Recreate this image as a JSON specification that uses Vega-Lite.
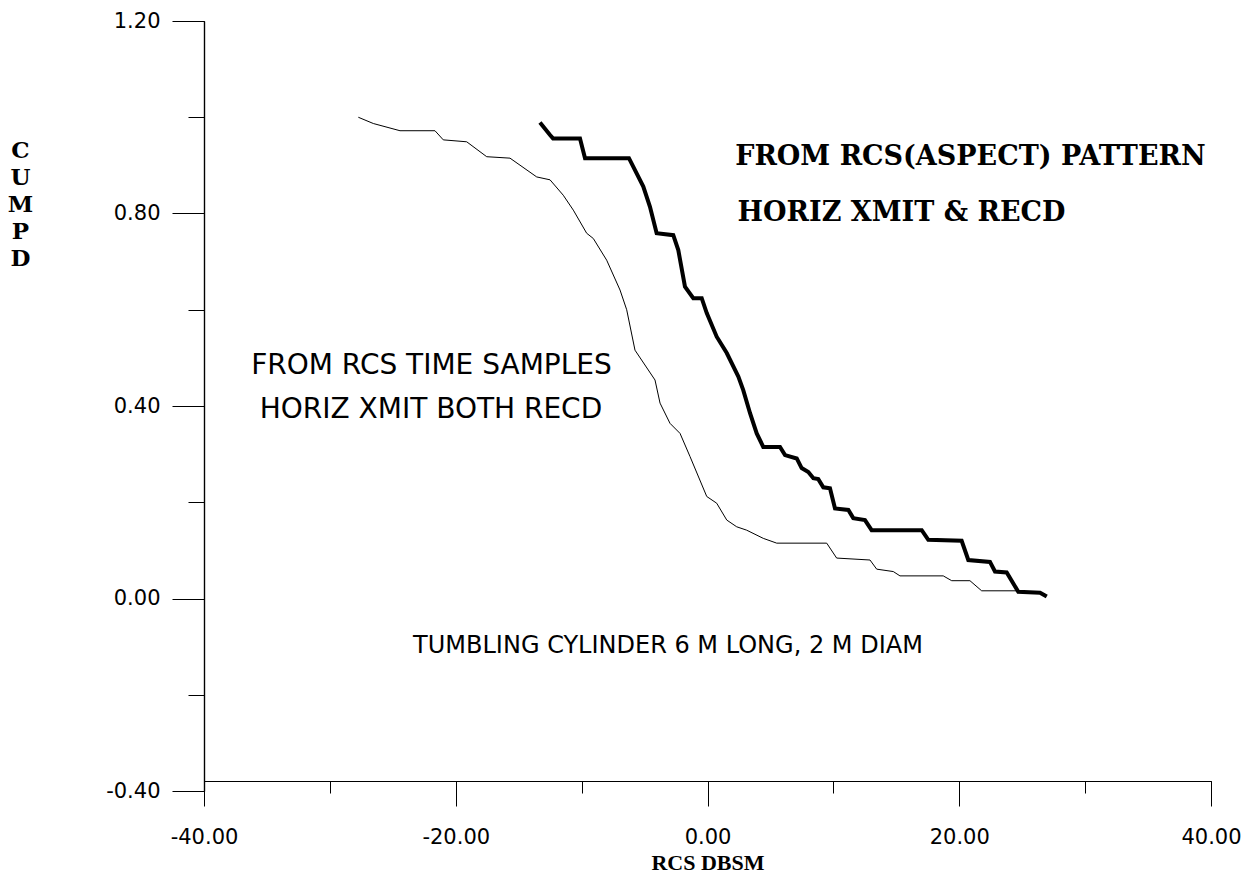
{
  "$schema": "https://vega.github.io/schema/vega-lite/v6.json",
  "width": 1007,
  "height": 770,
  "autosize": {"type": "none"},
  "padding": {"left": 204, "top": 21, "right": 41, "bottom": 89},
  "background": "white",
  "config": {"view": {"stroke": null}},
  "resolve": {"axis": {"x": "independent", "y": "independent"}},
  "datasets": {
    "curves": [
      {"series": "aspect", "x": -13.31, "y": 0.989},
      {"series": "aspect", "x": -12.51, "y": 0.963},
      {"series": "aspect", "x": -12.27, "y": 0.956},
      {"series": "aspect", "x": -10.13, "y": 0.956},
      {"series": "aspect", "x": -9.73, "y": 0.915},
      {"series": "aspect", "x": -6.24, "y": 0.915},
      {"series": "aspect", "x": -5.10, "y": 0.856},
      {"series": "aspect", "x": -4.57, "y": 0.814},
      {"series": "aspect", "x": -4.04, "y": 0.759},
      {"series": "aspect", "x": -2.72, "y": 0.755},
      {"series": "aspect", "x": -2.32, "y": 0.724},
      {"series": "aspect", "x": -1.79, "y": 0.648},
      {"series": "aspect", "x": -1.13, "y": 0.624},
      {"series": "aspect", "x": -0.46, "y": 0.624},
      {"series": "aspect", "x": -0.06, "y": 0.593},
      {"series": "aspect", "x": 0.73, "y": 0.544},
      {"series": "aspect", "x": 1.53, "y": 0.510},
      {"series": "aspect", "x": 2.45, "y": 0.461},
      {"series": "aspect", "x": 2.84, "y": 0.433},
      {"series": "aspect", "x": 3.38, "y": 0.385},
      {"series": "aspect", "x": 3.91, "y": 0.343},
      {"series": "aspect", "x": 4.43, "y": 0.315},
      {"series": "aspect", "x": 5.76, "y": 0.315},
      {"series": "aspect", "x": 6.16, "y": 0.298},
      {"series": "aspect", "x": 7.09, "y": 0.291},
      {"series": "aspect", "x": 7.48, "y": 0.271},
      {"series": "aspect", "x": 8.01, "y": 0.263},
      {"series": "aspect", "x": 8.41, "y": 0.250},
      {"series": "aspect", "x": 8.80, "y": 0.248},
      {"series": "aspect", "x": 9.20, "y": 0.231},
      {"series": "aspect", "x": 9.73, "y": 0.229},
      {"series": "aspect", "x": 10.13, "y": 0.187},
      {"series": "aspect", "x": 11.19, "y": 0.184},
      {"series": "aspect", "x": 11.58, "y": 0.167},
      {"series": "aspect", "x": 12.51, "y": 0.163},
      {"series": "aspect", "x": 13.04, "y": 0.142},
      {"series": "aspect", "x": 17.02, "y": 0.142},
      {"series": "aspect", "x": 17.54, "y": 0.122},
      {"series": "aspect", "x": 20.19, "y": 0.120},
      {"series": "aspect", "x": 20.72, "y": 0.080},
      {"series": "aspect", "x": 22.44, "y": 0.076},
      {"series": "aspect", "x": 22.84, "y": 0.056},
      {"series": "aspect", "x": 23.77, "y": 0.054},
      {"series": "aspect", "x": 24.69, "y": 0.014},
      {"series": "aspect", "x": 26.42, "y": 0.012},
      {"series": "aspect", "x": 26.95, "y": 0.004},
      {"series": "time", "x": -27.74, "y": 1.000},
      {"series": "time", "x": -26.55, "y": 0.987},
      {"series": "time", "x": -24.43, "y": 0.972},
      {"series": "time", "x": -21.65, "y": 0.972},
      {"series": "time", "x": -20.99, "y": 0.953},
      {"series": "time", "x": -19.13, "y": 0.949},
      {"series": "time", "x": -17.54, "y": 0.918},
      {"series": "time", "x": -15.69, "y": 0.915},
      {"series": "time", "x": -13.57, "y": 0.876},
      {"series": "time", "x": -12.51, "y": 0.870},
      {"series": "time", "x": -11.46, "y": 0.838},
      {"series": "time", "x": -10.66, "y": 0.807},
      {"series": "time", "x": -9.60, "y": 0.759},
      {"series": "time", "x": -9.07, "y": 0.748},
      {"series": "time", "x": -8.01, "y": 0.703},
      {"series": "time", "x": -6.95, "y": 0.641},
      {"series": "time", "x": -6.42, "y": 0.600},
      {"series": "time", "x": -5.76, "y": 0.516},
      {"series": "time", "x": -4.17, "y": 0.454},
      {"series": "time", "x": -3.77, "y": 0.406},
      {"series": "time", "x": -2.98, "y": 0.364},
      {"series": "time", "x": -2.18, "y": 0.343},
      {"series": "time", "x": -1.39, "y": 0.295},
      {"series": "time", "x": -0.06, "y": 0.212},
      {"series": "time", "x": 0.73, "y": 0.198},
      {"series": "time", "x": 1.53, "y": 0.163},
      {"series": "time", "x": 2.32, "y": 0.149},
      {"series": "time", "x": 3.11, "y": 0.142},
      {"series": "time", "x": 4.43, "y": 0.125},
      {"series": "time", "x": 5.50, "y": 0.115},
      {"series": "time", "x": 9.47, "y": 0.115},
      {"series": "time", "x": 10.26, "y": 0.084},
      {"series": "time", "x": 12.91, "y": 0.080},
      {"series": "time", "x": 13.44, "y": 0.061},
      {"series": "time", "x": 14.76, "y": 0.056},
      {"series": "time", "x": 15.29, "y": 0.047},
      {"series": "time", "x": 18.73, "y": 0.047},
      {"series": "time", "x": 19.40, "y": 0.037},
      {"series": "time", "x": 20.85, "y": 0.037},
      {"series": "time", "x": 21.78, "y": 0.016},
      {"series": "time", "x": 24.59, "y": 0.016}
    ],
    "boldNotes": [
      {"x": 20.89, "y": 0.917, "text": "FROM RCS(ASPECT) PATTERN"},
      {"x": 15.41, "y": 0.801, "text": "HORIZ XMIT & RECD"}
    ],
    "plainNotes": [
      {"x": -21.93, "y": 0.483, "text": "FROM RCS TIME SAMPLES"},
      {"x": -21.97, "y": 0.392, "text": "HORIZ XMIT BOTH RECD"}
    ],
    "smallNotes": [
      {"x": -3.14, "y": -0.099, "text": "TUMBLING CYLINDER 6 M LONG, 2 M DIAM"}
    ]
  },
  "layer": [
    {
      "data": {"name": "curves"},
      "mark": {"type": "line", "color": "black", "interpolate": "linear"},
      "encoding": {
        "x": {
          "field": "x", "type": "quantitative",
          "scale": {"domain": [-40, 40], "nice": false, "zero": false},
          "axis": {
            "orient": "bottom",
            "title": null,
            "offset": -10,
            "values": [-40, -30, -20, -10, 0, 10, 20, 30, 40],
            "labels": false,
            "grid": false,
            "domainColor": "black",
            "domainWidth": 1.2,
            "tickColor": "black",
            "tickWidth": 1,
            "tickSize": 12
          }
        },
        "y": {
          "field": "y", "type": "quantitative",
          "scale": {"domain": [-0.4, 1.2], "nice": false, "zero": false},
          "axis": {
            "orient": "left",
            "title": null,
            "values": [-0.4, -0.2, 0, 0.2, 0.4, 0.6, 0.8, 1.0, 1.2],
            "labels": false,
            "grid": false,
            "domainColor": "black",
            "domainWidth": 1.2,
            "tickColor": "black",
            "tickWidth": 1,
            "tickSize": 16
          }
        },
        "detail": {"field": "series", "type": "nominal"},
        "strokeWidth": {
          "field": "series", "type": "nominal",
          "scale": {"domain": ["aspect", "time"], "range": [4, 1]},
          "legend": null
        }
      }
    },
    {
      "data": {"name": "boldNotes"},
      "mark": {"type": "text", "font": "DejaVu Serif", "fontWeight": "bold", "fontSize": 27, "color": "black", "align": "center", "baseline": "middle"},
      "encoding": {
        "x": {
          "field": "x", "type": "quantitative",
          "axis": {
            "orient": "bottom",
            "title": "RCS DBSM",
            "titleFont": "Liberation Serif",
            "titleFontWeight": "bold",
            "titleFontSize": 22,
            "titleColor": "black",
            "titleY": 81,
            "titleBaseline": "middle",
            "offset": -10,
            "values": [-40, -20, 0, 20, 40],
            "labelExpr": "replace(format(datum.value, '.2f'), '\u2212', '-')",
            "labelFont": "DejaVu Sans",
            "labelFontSize": 21,
            "labelColor": "black",
            "labelPadding": 20,
            "labelFlush": false,
            "labelOverlap": false,
            "grid": false,
            "domainColor": "black",
            "domainWidth": 1.2,
            "tickColor": "black",
            "tickWidth": 1,
            "tickSize": 25
          }
        },
        "y": {
          "field": "y", "type": "quantitative",
          "axis": {
            "orient": "left",
            "title": ["C", "U", "M", "P", "D"],
            "titleAngle": 0,
            "titleFont": "DejaVu Serif",
            "titleFontWeight": "bold",
            "titleFontSize": 23,
            "titleLineHeight": 27,
            "titleColor": "black",
            "titleX": -184,
            "titleY": 118,
            "titleAlign": "center",
            "titleBaseline": "top",
            "values": [-0.4, 0, 0.4, 0.8, 1.2],
            "labelExpr": "replace(format(datum.value, '.2f'), '\u2212', '-')",
            "labelFont": "DejaVu Sans",
            "labelFontSize": 21,
            "labelColor": "black",
            "labelPadding": 12,
            "labelFlush": false,
            "labelOverlap": false,
            "grid": false,
            "domainColor": "black",
            "domainWidth": 1.2,
            "tickColor": "black",
            "tickWidth": 1,
            "tickSize": 32
          }
        },
        "text": {"field": "text"}
      }
    },
    {
      "data": {"name": "plainNotes"},
      "mark": {"type": "text", "font": "DejaVu Sans", "fontSize": 28, "color": "black", "align": "center", "baseline": "middle"},
      "encoding": {
        "x": {"field": "x", "type": "quantitative", "axis": null},
        "y": {"field": "y", "type": "quantitative", "axis": null},
        "text": {"field": "text"}
      }
    },
    {
      "data": {"name": "smallNotes"},
      "mark": {"type": "text", "font": "DejaVu Sans", "fontSize": 24, "color": "black", "align": "center", "baseline": "middle"},
      "encoding": {
        "x": {"field": "x", "type": "quantitative", "axis": null},
        "y": {"field": "y", "type": "quantitative", "axis": null},
        "text": {"field": "text"}
      }
    }
  ]
}
